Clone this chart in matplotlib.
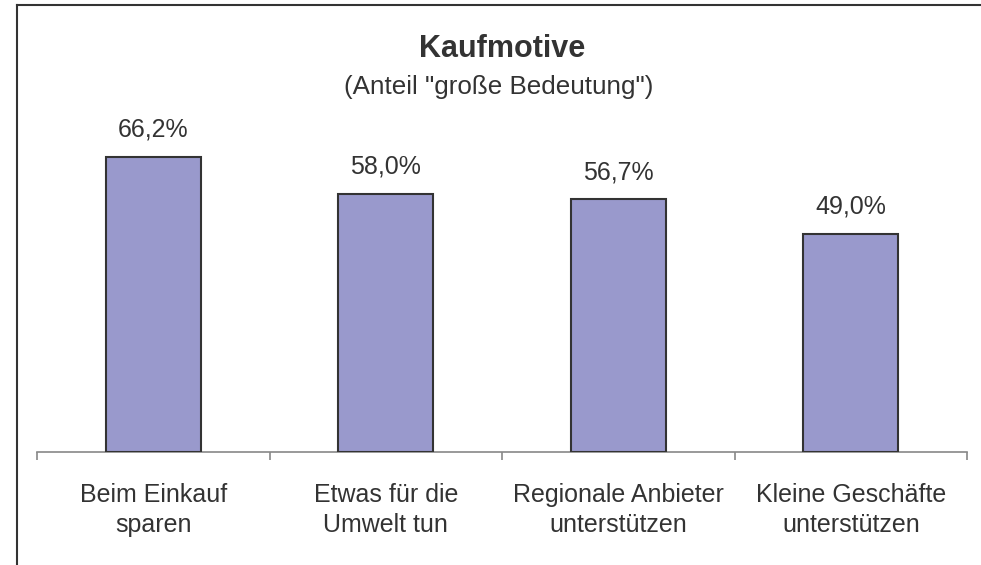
import matplotlib
matplotlib.use("Agg")
import matplotlib.pyplot as plt
from matplotlib.lines import Line2D

categories = ["Beim Einkauf\nsparen", "Etwas für die\nUmwelt tun",
              "Regionale Anbieter\nunterstützen", "Kleine Geschäfte\nunterstützen"]
values = [66.2, 58.0, 56.7, 49.0]
value_labels = ["66,2%", "58,0%", "56,7%", "49,0%"]
title = "Kaufmotive"
subtitle = '(Anteil "große Bedeutung")'

plt.rcParams['font.family'] = ['Liberation Sans', 'DejaVu Sans']
W, H = 981, 565
fig = plt.figure(figsize=(W / 100, H / 100), dpi=100)
fig.patch.set_facecolor('white')

ax = fig.add_axes([37 / W, 113 / H, 930 / W, 356.5 / H])
x = list(range(len(categories)))
ax.bar(x, values, width=0.41, color='#9999CC', edgecolor='#333333', linewidth=1.5, zorder=3)
ax.set_xlim(-0.5, len(categories) - 0.5)
ax.set_ylim(0, 80)

for xi, v, lab in zip(x, values, value_labels):
    ax.annotate(lab, (xi, v), xytext=(0, 20), textcoords='offset pixels',
                ha='center', va='baseline', fontsize=18, color='#333333')

for s in ['top', 'right', 'left']:
    ax.spines[s].set_visible(False)
ax.spines['bottom'].set_color('#888888')
ax.spines['bottom'].set_linewidth(1.2)
ax.set_yticks([])
ax.set_xticks(x)
ax.set_xticklabels(categories, fontsize=18, color='#333333', linespacing=1.35)
ax.tick_params(axis='x', which='major', length=0, pad=22)
ax.set_xticks([i - 0.5 for i in range(len(categories) + 1)], minor=True)
ax.tick_params(axis='x', which='minor', length=6, width=1.2, color='#888888', direction='out')

fig.text(502 / W, 1 - 57 / H, title, ha='center', va='baseline', fontsize=22,
         fontweight='bold', color='#333333')
fig.text(499 / W, 1 - 94 / H, subtitle, ha='center', va='baseline', fontsize=18.7,
         color='#333333')

# figure border (left and top visible)
fig.add_artist(Line2D([16.5 / W, 16.5 / W], [0, 1 - 5 / H], transform=fig.transFigure,
                      color='#333333', linewidth=1.5))
fig.add_artist(Line2D([16.5 / W, 1], [1 - 5 / H, 1 - 5 / H], transform=fig.transFigure,
                      color='#333333', linewidth=1.5))

fig.savefig("out.png", dpi=100, facecolor='white')
